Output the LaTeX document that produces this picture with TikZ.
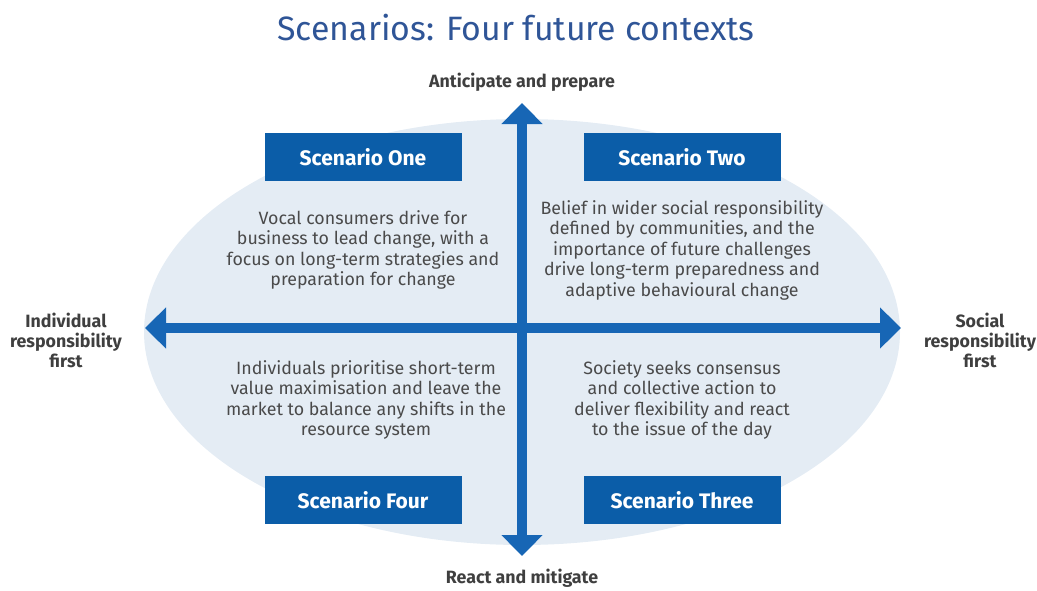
\documentclass[tikz,border=0pt]{standalone}
\usepackage{fontspec}
\setmainfont{Fira Sans}
\usetikzlibrary{arrows.meta, shapes.geometric}
\definecolor{boxblue}{HTML}{0B5DA8}
\definecolor{axisblue}{HTML}{1766B5}
\definecolor{titleblue}{HTML}{2F5597}
\definecolor{ovalfill}{HTML}{E4ECF4}
\definecolor{bodygray}{HTML}{4A4A4A}
\definecolor{labelgray}{HTML}{3F3F3F}
\begin{document}
\begin{tikzpicture}[
    x=1pt, y=-1pt,
    scen/.style={rectangle, fill=boxblue, text=white, minimum width=197pt, minimum height=48pt, inner sep=0pt, font=\fontsize{21}{24}\selectfont\bfseries},
    desc/.style={align=center, text=bodygray, font=\fontsize{17.8}{20.5}\selectfont, inner sep=0pt},
    axlabel/.style={align=center, text=labelgray, font=\fontsize{17.8}{20}\selectfont\bfseries, inner sep=0pt},
    axis/.style={draw=axisblue, line width=10pt, {Triangle[width=40pt,length=21pt]}-{Triangle[width=40pt,length=21pt]}},
]
\useasboundingbox (0,0) rectangle (1037,590);

% Titel
\node[text=titleblue, font=\fontsize{33.8}{38}\selectfont] (title) at (516, 28) {Scenarios: Four future contexts};

% Oval
\node[ellipse, fill=ovalfill, minimum width=756pt, minimum height=426pt, inner sep=0pt] (oval) at (522, 332) {};

% Achsen
\coordinate (top) at (522, 103);
\coordinate (bottom) at (522, 556);
\coordinate (left) at (145, 328);
\coordinate (right) at (901, 328);
\draw[axis] (top) -- (bottom);
\draw[axis] (left) -- (right);

% Achsenbeschriftungen
\node[axlabel] (ant) at (522, 82) {Anticipate and prepare};
\node[axlabel] (react) at (522, 578) {React and mitigate};
\node[axlabel] (indiv) at (66, 340) {Individual\\responsibility\\first};
\node[axlabel] (social) at (980, 340) {Social\\responsibility\\first};

% Szenarien
\node[scen] (s1) at (363, 157) {Scenario One};
\node[scen] (s2) at (682, 157) {Scenario Two};
\node[scen] (s4) at (363, 500) {Scenario Four};
\node[scen] (s3) at (682, 500) {Scenario Three};

% Beschreibungen
\node[desc] (d1) at (363, 250) {Vocal consumers drive for\\business to lead change, with a\\focus on long-term strategies and\\preparation for change};
\node[desc] (d2) at (682, 250) {Belief in wider social responsibility\\defined by communities, and the\\importance of future challenges\\drive long-term preparedness and\\adaptive behavioural change};
\node[desc] (d4) at (366, 400) {Individuals prioritise short-term\\value maximisation and leave the\\market to balance any shifts in the\\resource system};
\node[desc] (d3) at (682, 400) {Society seeks consensus\\and collective action to\\deliver flexibility and react\\to the issue of the day};

\end{tikzpicture}
\end{document}
